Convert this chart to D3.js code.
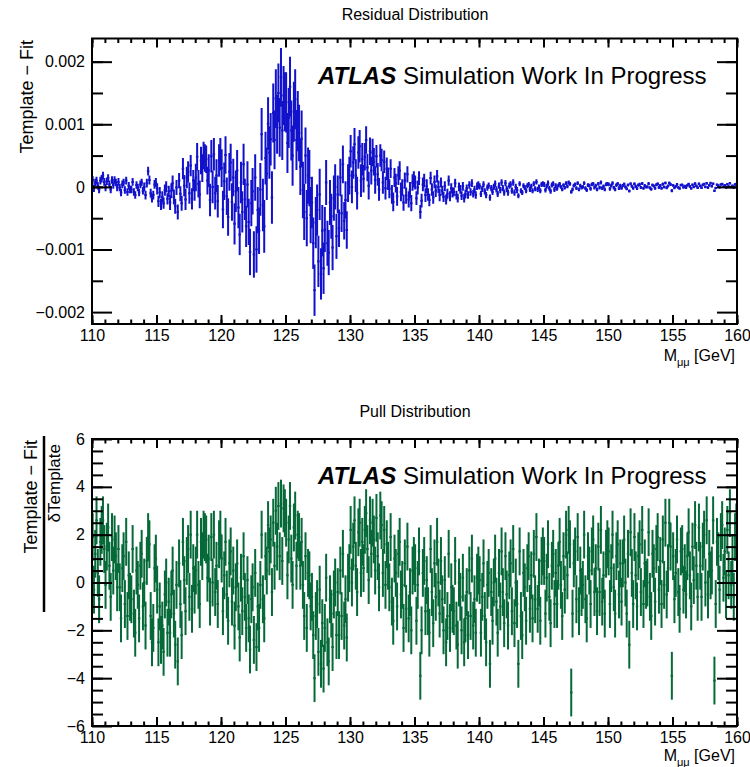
<!DOCTYPE html>
<html><head><meta charset="utf-8">
<script src="https://cdn.jsdelivr.net/npm/d3@7"></script>
<style>
body{margin:0;background:#fff}
svg{display:block}
text{font-family:"Liberation Sans",Arial,Helvetica,sans-serif;fill:#000}
</style>
</head><body>
<svg id="c" width="750" height="767"></svg>
<script>
// ---------- data ----------
const massMin = 110, massMax = 160, binWidth = 0.1;
const massTicks = [110,115,120,125,130,135,140,145,150,155,160];
const residualTicks = [-0.002,-0.001,0,0.001,0.002];
const residualTickLabels = ["\u22120.002","\u22120.001","0","0.001","0.002"];
const pullTicks = [-6,-4,-2,0,2,4,6];
const pullTickLabels = ["\u22126","\u22124","\u22122","0","2","4","6"];
const residualUnit = 1e-5;
// residual uncertainty (1e-5 units), read per 1 GeV slice from 110 to 159
const residualErrPerGeV = [6,6,6,6,7,9,12,17,22,26,30,33,37,42,47,48,45,41,36,30,26,22,18,15,13,11,10,8,7,6,5,5,5,4,4,4,3,3,3,3,3,2.5,2.5,2.5,2.5,2.2,2.2,2.2,2,2];
const pullError = 1;
// Template - Fit (1e-5 units), 0.1 GeV bins
const residualE5 = [
11,-2,7,10,2,-4,10,13,18,8,
-1,9,14,4,-4,11,3,11,7,-1,
8,-1,-9,4,7,-5,10,-8,2,-4,
-4,8,-8,-13,3,-1,-9,4,7,-6,
0,-13,6,25,11,-10,-18,-13,4,7,
-3,-23,-9,-28,-16,-26,-5,0,-19,-7,
-25,-6,6,-16,-31,-1,-40,10,-11,-26,
29,2,-20,15,24,-10,34,-19,10,-5,
15,48,5,-12,42,30,50,46,44,10,
26,-21,49,0,52,-10,18,-23,42,52,
30,-36,9,51,-15,-48,24,39,-24,15,
-59,-7,26,-33,-76,7,-40,36,-20,-63,
4,-56,-104,-26,-7,-108,15,-100,-37,-70,
-4,84,-29,-63,46,21,101,55,76,-17,
118,75,141,100,150,95,175,90,146,136,
135,70,110,160,90,50,120,140,75,105,
86,32,77,-5,-40,50,-50,18,14,-45,
-25,-90,-165,-57,-37,-119,-12,-139,-70,-130,
-68,7,-90,-105,-25,-47,-97,-18,0,-79,
-12,-66,15,-42,36,-54,-21,-69,6,18,
57,0,39,68,18,-10,55,65,10,44,
13,48,75,31,2,57,26,55,40,11,
49,20,-4,50,43,7,40,-2,29,13,
-3,29,-12,-24,15,6,-15,18,26,-8,
-1,-25,10,-14,20,-20,-5,-26,7,12,
7,-18,-1,14,-40,-22,4,10,-13,1,
-12,-21,14,-4,-17,8,-6,17,0,-13,
7,-6,-16,1,-20,-11,10,-15,-2,-9,
-8,6,-13,-18,0,-4,-14,1,-18,-11,
-2,-13,3,-8,6,-11,-4,-13,1,3,
1,-11,-3,4,-7,-13,-1,2,-17,-2,
-8,0,5,-4,-11,2,-5,7,-2,-9,
6,-3,-9,2,4,-6,7,-9,0,-5,
-14,5,-6,-9,2,-1,-6,2,4,-4,
1,-6,5,-3,8,-4,0,-6,4,5,
4,-5,1,6,-2,-7,3,5,-4,2,
-3,2,5,0,-4,3,-1,6,1,7,
5,-8,-4,2,4,-2,6,-4,2,-1,
0,6,-2,-5,3,2,-3,4,5,-1,
2,-4,5,-1,7,-2,1,-4,4,5,
4,-3,2,6,-1,-4,3,5,-2,2,
-2,2,4.5,0,-3,3,-6.5,5,1,-2,
4.8,0.8,-2.5,2.8,4,-1,5.5,-2.2,2,-0.2,
0,5.2,-1.5,-3.5,3,1.5,-2,3.5,4.8,-0.8,
2.2,-2.2,4.5,-0.2,6.2,-1.2,1.5,6.2,3.8,-6,
2.4,-1.5,0.9,4,-0.9,-2.4,2.9,3.1,-0.7,1.3,
-1.1,2.4,4.6,0.7,-2.2,3.3,0.2,5.3,1.5,-1.3,
5,1.5,-1.3,3.3,4.4,0,5.7,-1.1,2.6,6,
1,5.2,-6,-1.8,3.4,2.2,-0.6,3.8,4.8,0.4,
2.6,-1,4.4,0.6,5.8,-0.2,2,-1.2,3.8,4.6
];
// (Template - Fit) / dTemplate, 0.1 GeV bins
const pull = [
1.9,-0.3,1.2,2.6,0.4,-0.7,1.7,2.2,2.6,1.4,
-0.1,1.5,2.3,0.7,-0.6,1.9,0.5,1.8,1.1,-0.2,
1.4,-0.2,-1.5,0.6,1.1,-0.9,1.7,-1.4,0.3,-0.6,
-0.7,1.4,-1.3,-2.1,0.5,-0.1,-1.5,0.7,1.2,-1.0,
0.0,-1.8,0.9,1.9,1.6,-1.4,-2.5,-1.9,0.6,1.0,
-0.3,-2.5,-1.0,-2.4,-1.8,-2.9,-0.5,0.0,-2.1,-0.8,
-2.1,-0.5,0.5,-1.3,-2.6,-0.1,-3.3,0.8,-0.9,-2.2,
1.7,0.1,-1.2,0.9,1.4,-0.6,2.0,-1.1,0.6,-0.3,
0.5,2.0,-0.1,-0.9,1.7,1.1,2.0,1.9,1.8,0.2,
1.0,-0.8,1.9,0.0,2.0,-0.4,0.7,-0.9,1.6,2.0,
1.0,-1.2,0.3,1.7,-0.5,-1.6,0.8,1.3,-0.8,0.5,
-1.8,-0.2,0.8,-1.0,-2.3,0.2,-1.2,1.1,-0.6,-1.9,
0.1,-1.5,-2.8,-0.7,-0.2,-2.4,0.4,-2.7,-1.0,-1.9,
-0.1,2.0,-0.7,-1.5,1.1,0.5,2.4,1.3,1.8,-0.4,
2.5,0.7,3.0,1.5,3.2,1.1,3.3,0.9,3.1,2.9,
2.5,0.3,1.8,3.2,1.0,-0.1,2.3,2.8,0.7,2.0,
1.9,0.7,1.7,-0.1,-1.4,1.1,-1.9,0.4,0.3,-1.0,
-0.6,-2.2,-4.0,-1.4,-0.9,-2.9,-0.3,-3.4,-1.7,-3.6,
-1.9,0.2,-2.5,-3.3,-0.7,-1.3,-2.7,-0.5,0.0,-2.2,
-0.4,-2.2,0.5,-1.4,1.2,-1.8,-0.7,-2.3,0.2,0.6,
2.2,0.0,1.5,2.6,0.7,-0.4,2.1,2.5,0.4,1.7,
0.6,2.2,2.9,1.4,0.1,2.6,1.2,2.5,1.8,0.5,
2.7,1.1,-0.2,2.8,2.4,0.4,2.2,-0.1,1.6,0.7,
-0.2,1.9,-0.8,-1.6,1.0,0.4,-1.0,1.2,1.7,-0.5,
-0.1,-1.9,0.8,-1.1,1.5,-1.5,-0.4,-2.0,0.5,0.9,
0.6,-1.6,-0.1,1.3,-3.9,-2.0,0.4,0.9,-1.2,0.1,
-1.2,-2.1,1.4,-0.4,-1.7,0.8,-0.6,1.7,0.0,-1.3,
0.9,-0.7,-2.0,0.1,-2.5,-1.4,1.2,-1.9,-0.2,-1.1,
-1.2,0.9,-1.8,-2.6,0.0,-0.6,-2.0,0.2,-2.5,-1.5,
-0.4,-2.2,0.5,-1.4,1.0,-1.8,-0.7,-2.1,0.2,0.5,
0.1,-2.1,-0.6,0.8,-1.4,-2.5,-0.1,0.4,-3.4,-0.4,
-1.6,0.0,1.0,-0.8,-2.1,0.4,-1.0,1.3,-0.4,-1.7,
1.1,-0.5,-1.8,0.3,0.8,-1.2,1.4,-1.7,0.0,-0.9,
-3.4,1.3,-1.4,-2.2,0.4,-0.2,-1.6,0.6,1.1,-1.1,
0.3,-1.5,1.2,-0.7,1.9,-1.1,0.0,-1.6,0.9,1.3,
0.9,-1.3,0.2,1.6,-0.6,-1.7,0.7,1.2,-0.9,0.4,
-0.9,0.7,1.7,-0.1,-1.4,1.1,-0.3,2.0,0.3,2.2,
1.6,-4.6,-1.3,0.8,1.3,-0.7,1.9,-1.2,0.5,-0.4,
-0.1,2.0,-0.7,-1.5,1.1,0.5,-0.9,1.3,1.8,-0.4,
0.6,-1.2,1.5,-0.4,2.2,-0.8,0.3,-1.3,1.2,1.6,
1.3,-0.9,0.6,2.0,-0.2,-1.3,1.1,1.6,-0.5,0.8,
-0.8,0.8,1.8,0.0,-1.3,1.2,-2.6,2.1,0.4,-0.9,
1.9,0.3,-1.0,1.1,1.6,-0.4,2.2,-0.9,0.8,-0.1,
0.0,2.1,-0.6,-1.4,1.2,0.6,-0.8,1.4,1.9,-0.3,
0.9,-0.9,1.8,-0.1,2.5,-0.5,0.6,2.5,1.5,-3.9,
1.1,-0.7,0.4,1.8,-0.4,-1.1,1.3,1.4,-0.3,0.6,
-0.5,1.1,2.1,0.3,-1.0,1.5,0.1,2.4,0.7,-0.6,
2.3,0.7,-0.6,1.5,2.0,0.0,2.6,-0.5,1.2,0.3,
0.5,2.6,-4.1,-0.9,1.7,1.1,-0.3,1.9,2.4,0.2,
1.3,-0.5,2.2,0.3,2.9,-0.1,1.0,-0.6,1.9,2.3
];

// ---------- drawing ----------
const svg = d3.select("#c");
const X0 = 92, X1 = 737;
const x = d3.scaleLinear().domain([massMin, massMax]).range([X0, X1]);
const minorMass = d3.range(massMin, massMax + 0.001, 1);

const residualBins = residualE5.map((v, i) => {
  const lo = massMin + i * binWidth;
  return {lo, hi: lo + binWidth, mid: lo + binWidth / 2,
          v: v * residualUnit, e: residualErrPerGeV[Math.floor(i * binWidth + 1e-9)] * residualUnit};
});
const pullBins = pull.map((v, i) => {
  const lo = massMin + i * binWidth;
  return {lo, hi: lo + binWidth, mid: lo + binWidth / 2, v, e: pullError};
});

function drawPanel(p) {
  const {top, bottom, y, ticks, tickLabels, minorTicks, bins, color, id} = p;
  const g = svg.append("g");
  g.append("clipPath").attr("id", id).append("rect")
    .attr("x", X0).attr("y", top).attr("width", X1 - X0).attr("height", bottom - top);
  const data = g.append("g").attr("clip-path", `url(#${id})`);
  data.selectAll("line.v").data(bins).join("line").attr("class", "v")
    .attr("x1", d => x(d.mid)).attr("x2", d => x(d.mid))
    .attr("y1", d => y(d.v - d.e)).attr("y2", d => y(d.v + d.e))
    .attr("stroke", color).attr("stroke-width", 2);
  data.selectAll("line.h").data(bins).join("line").attr("class", "h")
    .attr("x1", d => x(d.lo) - 0.6).attr("x2", d => x(d.hi) + 0.6)
    .attr("y1", d => y(d.v)).attr("y2", d => y(d.v))
    .attr("stroke", color).attr("stroke-width", 2);

  const style = sel => { sel.select(".domain").remove();
    sel.selectAll(".tick line").attr("stroke", "#000").attr("stroke-width", 2);
    sel.selectAll("text").style("font-size", "16px").attr("fill", "#000"); };

  g.append("g").attr("transform", `translate(0,${bottom})`)
    .call(d3.axisBottom(x).tickValues(minorMass).tickSize(-4.5).tickFormat("")).call(style);
  g.append("g").attr("transform", `translate(0,${bottom})`)
    .call(d3.axisBottom(x).tickValues(massTicks).tickSize(-9).tickPadding(6).tickFormat(d3.format("d"))).call(style);
  g.append("g").attr("transform", `translate(0,${top})`)
    .call(d3.axisTop(x).tickValues(minorMass).tickSize(-4.5).tickFormat("")).call(style);
  g.append("g").attr("transform", `translate(0,${top})`)
    .call(d3.axisTop(x).tickValues(massTicks).tickSize(-9).tickFormat("")).call(style);
  g.append("g").attr("transform", `translate(${X0},0)`)
    .call(d3.axisLeft(y).tickValues(minorTicks).tickSize(-11).tickFormat("")).call(style);
  g.append("g").attr("transform", `translate(${X0},0)`)
    .call(d3.axisLeft(y).tickValues(ticks).tickSize(-20).tickPadding(7).tickFormat((d, i) => tickLabels[i])).call(style);
  g.append("g").attr("transform", `translate(${X1},0)`)
    .call(d3.axisRight(y).tickValues(minorTicks).tickSize(-11).tickFormat("")).call(style);
  g.append("g").attr("transform", `translate(${X1},0)`)
    .call(d3.axisRight(y).tickValues(ticks).tickSize(-20).tickFormat("")).call(style);

  g.append("rect").attr("x", X0).attr("y", top).attr("width", X1 - X0).attr("height", bottom - top)
    .attr("fill", "none").attr("stroke", "#000").attr("stroke-width", 2);
  return g;
}

function atlasLabel(yBase) {
  const t = svg.append("text").attr("x", 318).attr("y", yBase).style("font-size", "24px");
  t.append("tspan").attr("font-weight", "bold").attr("font-style", "italic").text("ATLAS");
  t.append("tspan").text(" Simulation Work In Progress");
}
function massTitle(yBase) {
  const t = svg.append("text").attr("x", 735).attr("y", yBase).attr("text-anchor", "end").style("font-size", "16px");
  t.append("tspan").text("M");
  t.append("tspan").attr("dy", 5).style("font-size", "11px").text("\u03bc\u03bc");
  t.append("tspan").attr("dy", -5).text(" [GeV]");
}

// top panel
const yR = d3.scaleLinear().domain([-0.00219, 0.00237]).range([324, 38.5]);
drawPanel({top: 38.5, bottom: 324, y: yR, ticks: residualTicks, tickLabels: residualTickLabels,
  minorTicks: [-0.0015,-0.001,-0.0005,0,0.0005,0.001,0.0015,0.002], bins: residualBins, color: "#1212cc", id: "clipR"});
svg.append("text").attr("x", 415).attr("y", 20).attr("text-anchor", "middle").style("font-size", "16px").text("Residual Distribution");
atlasLabel(84);
massTitle(361);
svg.append("text").attr("transform", "translate(33,40) rotate(-90)").attr("text-anchor", "end")
  .style("font-size", "18px").text("Template \u2212 Fit");

// bottom panel
const yP = d3.scaleLinear().domain([-6, 6]).range([726, 439]);
drawPanel({top: 439, bottom: 726, y: yP, ticks: pullTicks, tickLabels: pullTickLabels,
  minorTicks: d3.range(-5.5, 6, 0.5), bins: pullBins, color: "#056a38", id: "clipP"});
svg.append("text").attr("x", 415).attr("y", 417).attr("text-anchor", "middle").style("font-size", "16px").text("Pull Distribution");
atlasLabel(484);
massTitle(761);
svg.append("text").attr("transform", "translate(37,440) rotate(-90)").attr("text-anchor", "end")
  .style("font-size", "18px").text("Template \u2212 Fit");
svg.append("line").attr("x1", 44).attr("x2", 44).attr("y1", 436).attr("y2", 612)
  .attr("stroke", "#000").attr("stroke-width", 2.5);
svg.append("text").attr("transform", "translate(60,444) rotate(-90)").attr("text-anchor", "end")
  .style("font-size", "17px").text("\u03b4Template");
</script>
</body></html>
